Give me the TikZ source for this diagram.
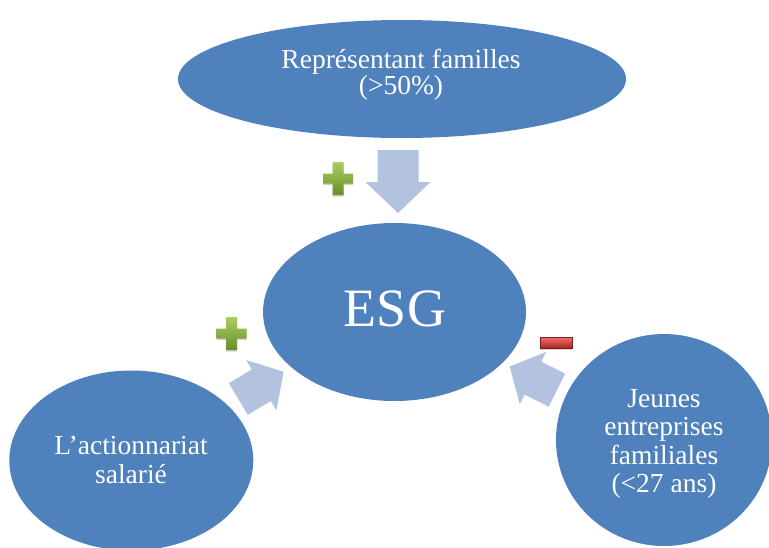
\documentclass[tikz,border=0pt]{standalone}
\usepackage{fontspec}
\setmainfont{Liberation Serif}
\usetikzlibrary{shapes.geometric}
\definecolor{bubblefill}{RGB}{79,129,189}
\definecolor{arrowfill}{RGB}{178,194,223}
\definecolor{plustop}{RGB}{170,206,98}
\definecolor{plusbot}{RGB}{104,144,40}
\definecolor{minustop}{RGB}{234,112,108}
\definecolor{minusbot}{RGB}{168,32,32}
\definecolor{minusedge}{RGB}{128,28,28}
\begin{document}
\begin{tikzpicture}[x=1pt,y=-1pt,
  bubble/.style={ellipse, fill=bubblefill, inner sep=0pt, outer sep=0pt},
  txt/.style={text=white, align=center, inner sep=0pt},
  blockarrow/.pic={\fill[arrowfill] (-31.5,-20.5) -- (0.5,-20.5) -- (0.5,-32.5) -- (31.5,0) -- (0.5,32.5) -- (0.5,20.5) -- (-31.5,20.5) -- cycle;},
  plussign/.pic={
    \fill[black,opacity=0.18] (-15,-3.5) -- (-5.5,-3.5) -- (-5.5,-15) -- (5.5,-15) -- (5.5,-3.5) -- (15,-3.5) -- (15,6.5) -- (5.5,6.5) -- (5.5,18) -- (-5.5,18) -- (-5.5,6.5) -- (-15,6.5) -- cycle;
    \shade[top color=plustop, bottom color=plusbot] (-15,-5) -- (-5.5,-5) -- (-5.5,-16.5) -- (5.5,-16.5) -- (5.5,-5) -- (15,-5) -- (15,5) -- (5.5,5) -- (5.5,16.5) -- (-5.5,16.5) -- (-5.5,5) -- (-15,5) -- cycle;},
  minussign/.pic={
    \fill[black,opacity=0.18] (-16,-4) rectangle (16,7);
    \shade[top color=minustop, bottom color=minusbot, draw=minusedge, line width=0.6pt] (-16,-5.5) rectangle (16,5.5);}
]
\useasboundingbox (0,0) rectangle (769,547);
\begin{scope}
\clip (0,0) rectangle (769,547);
\node[bubble, minimum width=448pt, minimum height=118pt] (fam) at (402,79) {};
\node[bubble, minimum width=263pt, minimum height=178pt] (esg) at (394.5,312) {};
\node[bubble, minimum width=244pt, minimum height=180pt] (act) at (131.3,460.5) {};
\node[bubble, minimum width=216pt, minimum height=212pt] (jeu) at (664,440) {};
\end{scope}
\node[txt, font=\fontsize{27.5}{25.7}\selectfont] (famtxt) at (401,74.4) {Représentant familles\\(>50\%)};
\node[txt, font=\fontsize{54}{60}\selectfont] (esgtxt) at (395,309) {ESG};
\node[txt, font=\fontsize{27.5}{29}\selectfont] (acttxt) at (131,460) {L’actionnariat\\salarié};
\node[txt, font=\fontsize{27.5}{28.3}\selectfont] (jeutxt) at (664,444) {Jeunes\\entreprises\\familiales\\(<27 ans)};
\pic[rotate=-90] at (398,181.5) {blockarrow};
\pic[rotate=31, xscale=0.84, yscale=0.9] at (261,385.4) {blockarrow};
\pic[rotate=153.4, xscale=0.84, yscale=0.9] at (533.3,378.3) {blockarrow};
\pic at (338,178.5) {plussign};
\pic at (231.5,333.5) {plussign};
\pic at (556,343) {minussign};
\end{tikzpicture}
\end{document}
